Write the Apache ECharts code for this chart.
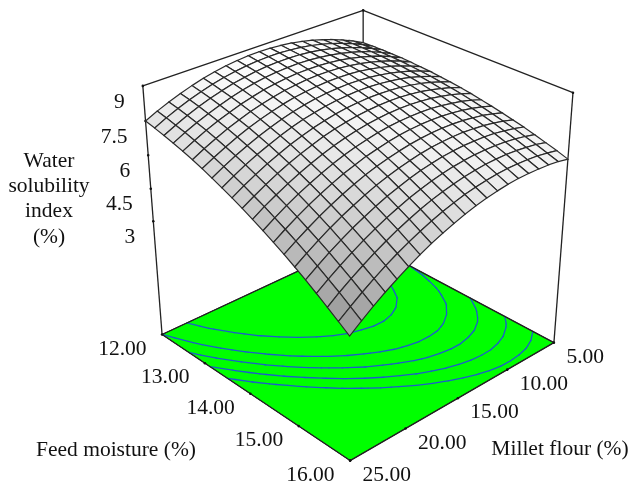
<!DOCTYPE html>
<html><head><meta charset="utf-8"><style>html,body{margin:0;padding:0;background:#fff}#c{width:632px;height:485px}</style>
<script src="https://cdn.jsdelivr.net/npm/echarts@6/dist/echarts.min.js"></script></head><body><div id="c"></div>
<script>
// Water solubility index: rows = feed moisture 12..16 (21 steps), columns = millet flour 25..5 (21 steps)
const wsi=[
[7.50,7.74,7.95,8.14,8.30,8.44,8.55,8.64,8.70,8.74,8.75,8.74,8.70,8.64,8.55,8.44,8.30,8.14,7.95,7.74,7.50],
[7.40,7.65,7.87,8.06,8.23,8.37,8.49,8.58,8.65,8.69,8.71,8.71,8.67,8.62,8.54,8.43,8.30,8.14,7.96,7.75,7.52],
[7.29,7.54,7.77,7.97,8.14,8.29,8.42,8.51,8.59,8.64,8.66,8.66,8.64,8.59,8.51,8.41,8.28,8.13,7.96,7.76,7.53],
[7.17,7.43,7.66,7.86,8.04,8.20,8.33,8.44,8.52,8.57,8.60,8.61,8.59,8.54,8.47,8.38,8.26,8.12,7.95,7.75,7.53],
[7.04,7.30,7.54,7.75,7.93,8.10,8.23,8.35,8.43,8.49,8.53,8.54,8.53,8.49,8.43,8.34,8.23,8.09,7.93,7.74,7.53],
[6.89,7.16,7.40,7.62,7.81,7.98,8.12,8.24,8.34,8.40,8.45,8.47,8.46,8.43,8.37,8.29,8.18,8.05,7.90,7.72,7.51],
[6.73,7.00,7.25,7.48,7.68,7.85,8.00,8.13,8.23,8.30,8.35,8.38,8.38,8.36,8.31,8.23,8.13,8.01,7.86,7.68,7.48],
[6.55,6.83,7.09,7.32,7.53,7.71,7.87,8.00,8.11,8.19,8.25,8.28,8.29,8.27,8.23,8.16,8.07,7.95,7.81,7.64,7.45],
[6.36,6.65,6.92,7.16,7.37,7.56,7.73,7.87,7.98,8.07,8.13,8.17,8.19,8.18,8.14,8.08,8.00,7.89,7.75,7.59,7.40],
[6.16,6.46,6.73,6.98,7.20,7.40,7.57,7.72,7.84,7.94,8.01,8.05,8.08,8.07,8.04,7.99,7.91,7.81,7.68,7.53,7.35],
[5.95,6.25,6.53,6.79,7.02,7.22,7.40,7.56,7.69,7.79,7.87,7.92,7.95,7.96,7.94,7.89,7.82,7.72,7.60,7.46,7.29],
[5.72,6.04,6.32,6.58,6.82,7.03,7.22,7.38,7.52,7.63,7.72,7.78,7.82,7.83,7.82,7.78,7.72,7.63,7.52,7.38,7.22],
[5.48,5.80,6.10,6.37,6.61,6.83,7.03,7.20,7.34,7.46,7.56,7.63,7.67,7.69,7.69,7.66,7.60,7.52,7.42,7.29,7.13],
[5.23,5.56,5.86,6.14,6.39,6.62,6.83,7.00,7.16,7.28,7.39,7.47,7.52,7.55,7.55,7.53,7.48,7.41,7.31,7.19,7.04],
[4.97,5.30,5.61,5.90,6.16,6.40,6.61,6.80,6.96,7.09,7.20,7.29,7.35,7.39,7.40,7.39,7.35,7.28,7.20,7.08,6.94],
[4.69,5.03,5.35,5.65,5.92,6.16,6.38,6.58,6.75,6.89,7.01,7.11,7.18,7.22,7.24,7.24,7.20,7.15,7.07,6.96,6.83],
[4.40,4.75,5.08,5.38,5.66,5.91,6.14,6.35,6.52,6.68,6.81,6.91,6.99,7.04,7.07,7.07,7.05,7.01,6.93,6.84,6.72],
[4.09,4.45,4.79,5.10,5.39,5.65,5.89,6.10,6.29,6.45,6.59,6.70,6.79,6.85,6.89,6.90,6.89,6.85,6.79,6.70,6.59],
[3.77,4.15,4.49,4.81,5.11,5.38,5.63,5.85,6.05,6.22,6.36,6.48,6.58,6.65,6.70,6.72,6.72,6.69,6.63,6.56,6.45],
[3.44,3.82,4.18,4.51,4.82,5.10,5.35,5.58,5.79,5.97,6.12,6.26,6.36,6.44,6.50,6.53,6.53,6.51,6.47,6.40,6.31],
[3.10,3.49,3.86,4.20,4.51,4.80,5.07,5.31,5.52,5.71,5.88,6.02,6.13,6.22,6.29,6.33,6.34,6.33,6.30,6.24,6.15]
];
const contourLevels=[8.0,7.5,7.15,6.8,6.45];
const moistureTicks=['12.00','13.00','14.00','15.00','16.00'];
const milletTicks=['25.00','20.00','15.00','10.00','5.00'];
const zTicks=[9,7.5,6,4.5,3];
const titleLines=['Water','solubility','index','(%)'];
const moistureTitle='Feed moisture (%)';
const milletTitle='Millet flour (%)';
const zFloor=-2.5,zTop=9;
const N=wsi.length;
// Perspective camera fitted to the box corners (moisture, millet, height -> page)
const anchors=[[0,0,0,162,334],[1,0,0,350,461],[1,1,0,554,342],[0,1,0,363,241.6],[0,0,1,143,86],[0,1,1,363,10],[1,1,1,573,93]];
function fit(){const M=[],Y=[];anchors.forEach(([a,b,w,x,y])=>{M.push([a,b,w,1,0,0,0,0,-x*a,-x*b,-x*w]);Y.push(x);M.push([0,0,0,0,a,b,w,1,-y*a,-y*b,-y*w]);Y.push(y);});
 const n=11,S=[];for(let r=0;r<n;r++){S.push(new Array(n+1).fill(0));for(let c=0;c<n;c++)for(let k=0;k<M.length;k++)S[r][c]+=M[k][r]*M[k][c];for(let k=0;k<M.length;k++)S[r][n]+=M[k][r]*Y[k];}
 for(let c=0;c<n;c++){let p=c;for(let r=c+1;r<n;r++)if(Math.abs(S[r][c])>Math.abs(S[p][c]))p=r;[S[c],S[p]]=[S[p],S[c]];for(let r=0;r<n;r++)if(r!==c){const f=S[r][c]/S[c][c];for(let k=c;k<=n;k++)S[r][k]-=f*S[c][k];}}
 return S.map((r,i)=>r[n]/r[i]);}
const P=fit();
function proj(a,b,w){const d=P[8]*a+P[9]*b+P[10]*w+1;return [(P[0]*a+P[1]*b+P[2]*w+P[3])/d,(P[4]*a+P[5]*b+P[6]*w+P[7])/d];}
const zw=z=>(z-zFloor)/(zTop-zFloor);
const cells=[];for(let i=0;i<N-1;i++)for(let j=0;j<N-1;j++)cells.push([i,j]);
cells.sort((p,q)=>(p[0]-p[1])-(q[0]-q[1]));
function shade(i,j){const dA=((wsi[i+1][j]+wsi[i+1][j+1])-(wsi[i][j]+wsi[i][j+1]))/2*(N-1),dB=((wsi[i][j+1]+wsi[i+1][j+1])-(wsi[i][j]+wsi[i+1][j]))/2*(N-1);
 const g=Math.round(Math.max(130,255-.93*(dA*dA+dB*dB)));return `rgb(${g},${g},${g})`;}
const segs=[];contourLevels.forEach(l=>{for(let i=0;i<N-1;i++)for(let j=0;j<N-1;j++){const c=[[i,j],[i+1,j],[i+1,j+1],[i,j+1]],pts=[];for(let k=0;k<4;k++){const p=c[k],q=c[(k+1)%4],u=wsi[p[0]][p[1]],v=wsi[q[0]][q[1]];if((u>=l)!==(v>=l)){const t=(l-u)/(v-u);pts.push([(p[0]+t*(q[0]-p[0]))/(N-1),(p[1]+t*(q[1]-p[1]))/(N-1)]);}}
 if(pts.length>=2)segs.push([pts[0][0],pts[0][1],pts[1][0],pts[1][1]]);if(pts.length==4)segs.push([pts[2][0],pts[2][1],pts[3][0],pts[3][1]]);}});
const FONT='"Liberation Serif"',FS=21.5;
const boxEdges=[[[0,0,0],[0,0,1]],[[0,0,1],[0,1,1]],[[0,1,1],[1,1,1]],[[1,1,1],[1,1,0]],[[0,1,1],[0,1,0]],[[0,0,0],[0,1,0]],[[0,1,0],[1,1,0]],[[0,0,0],[1,0,0]],[[1,0,0],[1,1,0]]];
const tickDots=[];zTicks.forEach(z=>tickDots.push([0,0,zw(z)]));[0,.25,.5,.75,1].forEach(t=>{tickDots.push([t,0,0]);tickDots.push([1,t,0]);});tickDots.push([1,1,1],[0,1,1]);
const textItems=[];
zTicks.forEach(z=>{const p=proj(0,0,zw(z));textItems.push([String(z),p[0]-18,p[1]+16,'right']);});
moistureTicks.forEach((s,k)=>{const p=proj(k/4,0,0);textItems.push([s,p[0]-15.5,p[1]+14.5,'right']);});
milletTicks.forEach((s,k)=>{const p=proj(1,k/4,0);textItems.push([s,p[0]+12.5,p[1]+14.5,'left']);});
[161,186,211,237].forEach((y,k)=>textItems.push([titleLines[k],49,y,'center']));
textItems.push([moistureTitle,116,450,'center'],[milletTitle,560,449,'center']);
const base={type:'custom',silent:true,clip:false,coordinateSystem:'cartesian2d',animation:false};
const option={animation:false,
 grid:{left:0,right:0,top:0,bottom:0},
 xAxis:{type:'value',min:0,max:632,show:false},
 yAxis:{type:'value',min:0,max:485,inverse:true,show:false},
 series:[
 {...base,z:1,data:[[0]],renderItem:(p,api)=>({type:'polygon',shape:{points:[[0,0,0],[1,0,0],[1,1,0],[0,1,0]].map(c=>api.coord(proj(...c)))},style:{fill:'#00ff00',stroke:'#222',lineWidth:1}})},
 {...base,z:2,data:segs.map((_,i)=>[i]),renderItem:(p,api)=>{const d=segs[p.dataIndex],a=api.coord(proj(d[0],d[1],0)),b=api.coord(proj(d[2],d[3],0));return {type:'line',shape:{x1:a[0],y1:a[1],x2:b[0],y2:b[1]},style:{stroke:'#1c5ccc',lineWidth:1.3,lineCap:'round'}};}},
 {...base,z:3,data:boxEdges.map((_,i)=>[i]),renderItem:(p,api)=>{const d=boxEdges[p.dataIndex],a=api.coord(proj(...d[0])),b=api.coord(proj(...d[1]));return {type:'line',shape:{x1:a[0],y1:a[1],x2:b[0],y2:b[1]},style:{stroke:'#222',lineWidth:1.3}};}},
 {...base,z:4,data:tickDots.map((_,i)=>[i]),renderItem:(p,api)=>{const a=api.coord(proj(...tickDots[p.dataIndex]));return {type:'circle',shape:{cx:a[0],cy:a[1],r:1.3},style:{fill:'#111'}};}},
 {...base,z:5,data:cells.map((_,i)=>[i]),renderItem:(p,api)=>{const [i,j]=cells[p.dataIndex];const c=[[i,j],[i+1,j],[i+1,j+1],[i,j+1]];return {type:'polygon',shape:{points:c.map(q=>api.coord(proj(q[0]/(N-1),q[1]/(N-1),zw(wsi[q[0]][q[1]]))))},style:{fill:shade(i,j),stroke:'#2a2a2a',lineWidth:1.2}};}},
 {...base,z:6,data:textItems.map((_,i)=>[i]),renderItem:(p,api)=>{const t=textItems[p.dataIndex],a=api.coord([t[1],t[2]]);return {type:'text',x:a[0],y:a[1],style:{text:t[0],font:FS+'px '+FONT,fill:'#111',align:t[3],verticalAlign:'middle'}};}}
 ]};
echarts.init(document.getElementById('c'),null,{renderer:'canvas'}).setOption(option);
</script></body></html>
